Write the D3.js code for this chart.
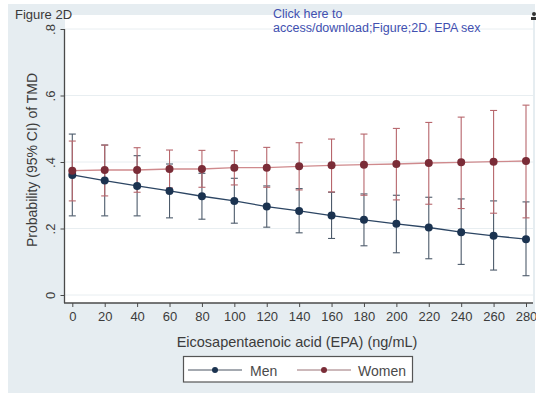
<!DOCTYPE html>
<html>
<head>
<meta charset="utf-8">
<script src="https://cdn.jsdelivr.net/npm/d3@7"></script>
<style>
  html, body { margin: 0; padding: 0; background: #ffffff; }
  svg { display: block; font-family: "Liberation Sans", Arial, sans-serif; }
</style>
</head>
<body>
<svg id="chart" width="536" height="395"></svg>
<script>
// EPA level (ng/mL) at which predicted probabilities are evaluated
const epa = [0, 20, 40, 60, 80, 100, 120, 140, 160, 180, 200, 220, 240, 260, 280];

// Men: predicted probability of TMD with 95% CI
const menP  = [0.361, 0.344, 0.328, 0.313, 0.297, 0.283, 0.266, 0.253, 0.239, 0.226, 0.214, 0.203, 0.189, 0.178, 0.168];
const menLo = [0.238, 0.238, 0.238, 0.232, 0.228, 0.216, 0.204, 0.187, 0.170, 0.148, 0.127, 0.109, 0.092, 0.075, 0.058];
const menHi = [0.484, 0.451, 0.419, 0.394, 0.366, 0.351, 0.328, 0.320, 0.309, 0.304, 0.300, 0.294, 0.289, 0.283, 0.280];

// Women: predicted probability of TMD with 95% CI
const womenP  = [0.374, 0.376, 0.376, 0.379, 0.379, 0.383, 0.383, 0.387, 0.390, 0.392, 0.394, 0.397, 0.399, 0.401, 0.403];
const womenLo = [0.283, 0.298, 0.309, 0.322, 0.324, 0.331, 0.324, 0.316, 0.310, 0.300, 0.286, 0.273, 0.260, 0.246, 0.232];
const womenHi = [0.463, 0.451, 0.443, 0.436, 0.435, 0.434, 0.444, 0.458, 0.469, 0.484, 0.501, 0.519, 0.535, 0.555, 0.571];

const yTicks = [0, 0.2, 0.4, 0.6, 0.8];
const seriesNames = ["Men", "Women"];

const svg = d3.select("#chart");
const W = 536, H = 395;

// graph region and plot region
const graph = { left: 8, top: 4, right: 535, bottom: 393 };
const plot = { left: 65, top: 15, right: 533, bottom: 303 };

const x = d3.scaleLinear().domain([0, 280]).range([72.3, 526]);
const y = d3.scaleLinear().domain([0, 0.8]).range([295, 29]);

const col = {
  bg: "#e6edf1",
  menLine: "#2c4563", menMark: "#1b3350", menBar: "#4d5b6b",
  womenLine: "#cf8a8d", womenMark: "#7a2c37", womenBar: "#b7666c",
  text: "#3c3c3c", axis: "#4a4a4a", grid: "#e8eef1"
};

svg.append("rect").attr("width", W).attr("height", H).attr("fill", "#ffffff");
svg.append("rect")
  .attr("x", graph.left).attr("y", graph.top)
  .attr("width", graph.right - graph.left).attr("height", graph.bottom - graph.top)
  .attr("fill", col.bg);
svg.append("rect")
  .attr("x", plot.left).attr("y", plot.top)
  .attr("width", plot.right - plot.left).attr("height", plot.bottom - plot.top)
  .attr("fill", "#ffffff");

// horizontal gridlines
svg.append("g").selectAll("line").data(yTicks).join("line")
  .attr("x1", plot.left).attr("x2", plot.right)
  .attr("y1", d => y(d)).attr("y2", d => y(d))
  .attr("stroke", col.grid).attr("stroke-width", 1);

// y axis
const yAxis = d3.axisLeft(y).tickValues(yTicks).tickSize(4).tickSizeOuter(0)
  .tickFormat(d => d === 0 ? "0" : d3.format(".1f")(d).replace(/^0/, ""));
const gy = svg.append("g").attr("transform", `translate(${plot.left - 0.5},0)`).call(yAxis);
gy.select(".domain").remove();
gy.selectAll(".tick line").attr("stroke", col.axis);
gy.selectAll(".tick text")
  .attr("x", null).attr("dy", null)
  .attr("transform", "translate(-10,0) rotate(-90)")
  .attr("text-anchor", "middle")
  .attr("fill", col.text)
  .style("font-size", "13px");
svg.append("line")
  .attr("x1", plot.left - 0.5).attr("x2", plot.left - 0.5)
  .attr("y1", y(0.8)).attr("y2", plot.bottom)
  .attr("stroke", col.axis).attr("stroke-width", 1.3);

// x axis
const xAxis = d3.axisBottom(x).tickValues(epa).tickSize(4).tickPadding(5).tickSizeOuter(0)
  .tickFormat(d3.format("d"));
const gx = svg.append("g").attr("transform", `translate(0,${plot.bottom})`).call(xAxis);
gx.select(".domain").remove();
gx.selectAll(".tick line").attr("stroke", col.axis);
gx.selectAll(".tick text").attr("fill", col.text).style("font-size", "13px");
svg.append("line")
  .attr("x1", plot.left - 1).attr("x2", plot.right)
  .attr("y1", plot.bottom).attr("y2", plot.bottom)
  .attr("stroke", col.axis).attr("stroke-width", 1.3);

// axis titles
svg.append("text")
  .attr("transform", "translate(37,160) rotate(-90)")
  .attr("text-anchor", "middle").attr("fill", col.text)
  .style("font-size", "14px")
  .text("Probability (95% CI) of TMD");
svg.append("text")
  .attr("x", 297).attr("y", 347)
  .attr("text-anchor", "middle").attr("fill", col.text)
  .style("font-size", "14.5px")
  .text("Eicosapentaenoic acid (EPA) (ng/mL)");

// confidence interval caps
function drawCI(lo, hi, color) {
  const g = svg.append("g").attr("stroke", color).attr("stroke-width", 1.1).attr("fill", "none");
  const rows = epa.map((e, i) => ({ e, lo: lo[i], hi: hi[i] }));
  g.selectAll("line.v").data(rows).join("line").attr("class", "v")
    .attr("x1", d => x(d.e)).attr("x2", d => x(d.e))
    .attr("y1", d => y(d.lo)).attr("y2", d => y(d.hi));
  g.selectAll("line.lo").data(rows).join("line").attr("class", "lo")
    .attr("x1", d => x(d.e) - 3.5).attr("x2", d => x(d.e) + 3.5)
    .attr("y1", d => y(d.lo)).attr("y2", d => y(d.lo));
  g.selectAll("line.hi").data(rows).join("line").attr("class", "hi")
    .attr("x1", d => x(d.e) - 3.5).attr("x2", d => x(d.e) + 3.5)
    .attr("y1", d => y(d.hi)).attr("y2", d => y(d.hi));
}
drawCI(menLo, menHi, col.menBar);
drawCI(womenLo, womenHi, col.womenBar);

// predicted probability lines and markers
function drawSeries(vals, lineColor, markColor) {
  const pts = epa.map((e, i) => [e, vals[i]]);
  svg.append("path").datum(pts)
    .attr("d", d3.line().x(d => x(d[0])).y(d => y(d[1])))
    .attr("fill", "none").attr("stroke", lineColor).attr("stroke-width", 1.3);
  svg.append("g").selectAll("circle").data(pts).join("circle")
    .attr("cx", d => x(d[0])).attr("cy", d => y(d[1])).attr("r", 4)
    .attr("fill", markColor);
}
drawSeries(menP, col.menLine, col.menMark);
drawSeries(womenP, col.womenLine, col.womenMark);

// legend
const lg = svg.append("g");
lg.append("rect")
  .attr("x", 183.5).attr("y", 356.5).attr("width", 229).attr("height", 25.5)
  .attr("fill", "#ffffff").attr("stroke", "#555").attr("stroke-width", 1.2);
const legendItems = [
  { name: seriesNames[0], x0: 188, line: "#4b5563", mark: col.menMark, tx: 250 },
  { name: seriesNames[1], x0: 297, line: "#9a7276", mark: col.womenMark, tx: 358 }
];
legendItems.forEach(it => {
  lg.append("line").attr("x1", it.x0).attr("x2", it.x0 + 54)
    .attr("y1", 370).attr("y2", 370).attr("stroke", it.line).attr("stroke-width", 1);
  lg.append("circle").attr("cx", it.x0 + 27).attr("cy", 370).attr("r", 3).attr("fill", it.mark);
  lg.append("text").attr("x", it.tx).attr("y", 376)
    .attr("fill", "#4a4a4a").style("font-size", "14px").text(it.name);
});

// document annotations
svg.append("text").attr("x", 15).attr("y", 19)
  .attr("fill", "#3a3a3a").style("font-size", "13px").text("Figure 2D");
const link = svg.append("text").attr("fill", "#4150b0").style("font-size", "12.5px");
link.append("tspan").attr("x", 273).attr("y", 18).text("Click here to");
link.append("tspan").attr("x", 273).attr("y", 32).text("access/download;Figure;2D. EPA sex");
const icon = svg.append("g").attr("fill", "#333");
icon.append("circle").attr("cx", 534).attr("cy", 14).attr("r", 2);
icon.append("rect").attr("x", 531).attr("y", 17).attr("width", 5).attr("height", 3);
</script>
</body>
</html>
